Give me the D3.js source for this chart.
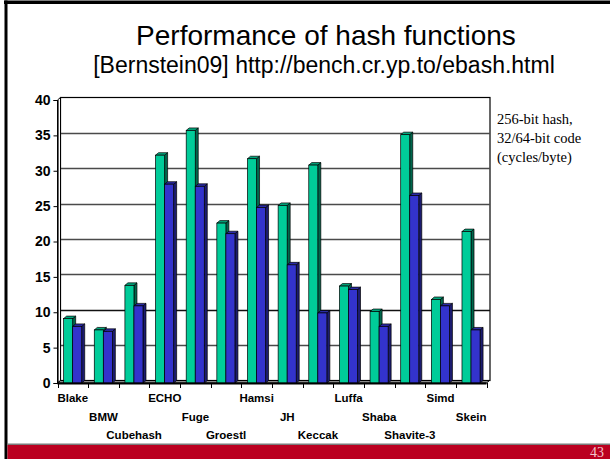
<!DOCTYPE html>
<html>
<head>
<meta charset="utf-8">
<script src="https://cdn.jsdelivr.net/npm/d3@7"></script>
<style>
  html, body { margin: 0; padding: 0; background: #fff; }
  svg { display: block; }
</style>
</head>
<body>
<svg id="chart" width="610" height="459"></svg>
<script>
// Hash function benchmark (cycles/byte), 256-bit hash
const categories = ["Blake", "BMW", "Cubehash", "ECHO", "Fuge", "Groestl", "Hamsi",
                    "JH", "Keccak", "Luffa", "Shaba", "Shavite-3", "Simd", "Skein"];
const code32 = [9.1, 7.5, 13.8, 32.2, 35.7, 22.6, 31.7, 25.1, 30.8, 13.7, 10.1, 35.1, 11.8, 21.4];
const code64 = [8.0, 7.3, 10.9, 28.1, 27.8, 21.1, 24.8, 16.7, 9.9, 13.2, 8.0, 26.5, 10.9, 7.5];
const yTicks = [0, 5, 10, 15, 20, 25, 30, 35, 40];
const seriesNames = ["32-bit", "64-bit"];

const svg = d3.select("#chart");
const sansFont = "'Liberation Sans', Arial, sans-serif";
const serifFont = "'Liberation Serif', 'Times New Roman', serif";

// slide frame
svg.append("rect").attr("x", 4).attr("y", 0.5).attr("width", 606).attr("height", 3.5).attr("fill", "#000");
svg.append("rect").attr("x", 4.5).attr("y", 0.5).attr("width", 3).attr("height", 459).attr("fill", "#000");
svg.append("rect").attr("x", 7.5).attr("y", 443.5).attr("width", 603).attr("height", 1.5).attr("fill", "#7a7a7a");
svg.append("rect").attr("x", 7.5).attr("y", 445).attr("width", 603).attr("height", 14).attr("fill", "#bb0020");
svg.append("text").attr("x", 604).attr("y", 456.5).attr("text-anchor", "end")
  .attr("font-family", serifFont).attr("font-size", 14).attr("fill", "#f2c4cc").text("43");

// titles
svg.append("text").attr("x", 326).attr("y", 45).attr("text-anchor", "middle")
  .attr("font-family", sansFont).attr("font-size", 28).attr("fill", "#000")
  .text("Performance of hash functions");
svg.append("text").attr("x", 324).attr("y", 73).attr("text-anchor", "middle")
  .attr("font-family", sansFont).attr("font-size", 23).attr("fill", "#000")
  .text("[Bernstein09] http://bench.cr.yp.to/ebash.html");

// side note
const note = ["256-bit hash,", "32/64-bit code", "(cycles/byte)"];
svg.append("g").selectAll("text").data(note).join("text")
  .attr("x", 497).attr("y", (d, i) => 124 + i * 19)
  .attr("font-family", serifFont).attr("font-size", 14.5).attr("fill", "#000")
  .text(d => d);

// scales (front plane); back plane is offset by depth
const dx = 3, dy = -2.5;
const x = d3.scaleBand().domain(categories).range([57.5, 486.5]).padding(0);
const bw = x.bandwidth();
const xs = d3.scaleBand().domain(seriesNames).range([0.2 * bw, 0.79 * bw]).padding(0);
const y = d3.scaleLinear().domain([0, 40]).range([383, 100]);

const plot = svg.append("g");

// back wall
const bx0 = x.range()[0] + dx, bx1 = x.range()[1] + dx + 0.5;
plot.append("rect").attr("x", bx0).attr("y", y(40) + dy).attr("width", bx1 - bx0)
  .attr("height", y(0) - y(40)).attr("fill", "#fff").attr("stroke", "#000").attr("stroke-width", 1.2);

// gridlines on back wall
plot.append("g").selectAll("line").data(yTicks.filter(t => t > 0 && t < 40)).join("line")
  .attr("x1", bx0).attr("x2", bx1)
  .attr("y1", d => Math.round(y(d) + dy) + 0.5).attr("y2", d => Math.round(y(d) + dy) + 0.5)
  .attr("stroke", d => d === 10 ? "#111" : "#4a4a4a").attr("stroke-width", 1.5);

// left wall
const lx = x.range()[0];
plot.append("path")
  .attr("d", `M${lx},${y(0)}L${lx},${y(40)}L${lx + dx},${y(40) + dy}L${lx + dx},${y(0) + dy}Z`)
  .attr("fill", "#fff").attr("stroke", "#000").attr("stroke-width", 1);

// floor
const fx0 = x.range()[0], fx1 = x.range()[1];
plot.append("path")
  .attr("d", `M${fx0},${y(0)}L${fx1},${y(0)}L${fx1 + dx},${y(0) + dy}L${fx0 + dx},${y(0) + dy}Z`)
  .attr("fill", "#8a8a8a").attr("stroke", "#000").attr("stroke-width", 1);

// bars
const palette = {
  "32-bit": { front: "#00cc99", top: "#00a67c", side: "#00664c" },
  "64-bit": { front: "#3333cc", top: "#2a2aa6", side: "#1c1c70" }
};
const rows = categories.map((c, i) => ({ c, vals: [code32[i], code64[i]] }));
const bars = [];
rows.forEach(r => seriesNames.forEach((s, j) => bars.push({ c: r.c, s, v: r.vals[j] })));

const barG = plot.append("g").selectAll("g").data(bars).join("g");
barG.each(function (d) {
  const g = d3.select(this);
  const x0 = x(d.c) + xs(d.s), w = xs.bandwidth();
  const yt = y(d.v), yb = y(0);
  const col = palette[d.s];
  g.append("path")
    .attr("d", `M${x0 + w},${yt}L${x0 + w + dx},${yt + dy}L${x0 + w + dx},${yb + dy}L${x0 + w},${yb}Z`)
    .attr("fill", col.side).attr("stroke", "#000").attr("stroke-width", 0.7);
  g.append("path")
    .attr("d", `M${x0},${yt}L${x0 + dx},${yt + dy}L${x0 + w + dx},${yt + dy}L${x0 + w},${yt}Z`)
    .attr("fill", col.top).attr("stroke", "#000").attr("stroke-width", 0.7);
  g.append("rect").attr("x", x0).attr("y", yt).attr("width", w).attr("height", yb - yt)
    .attr("fill", col.front).attr("stroke", "#000").attr("stroke-width", 0.7);
});

// front floor edge
plot.append("line").attr("x1", fx0).attr("x2", fx1).attr("y1", y(0) + 0.5).attr("y2", y(0) + 0.5)
  .attr("stroke", "#000").attr("stroke-width", 1.8);

// y axis
const yAxis = d3.axisLeft(y).tickValues(yTicks).tickSize(4).tickPadding(3);
const yg = plot.append("g").attr("transform", `translate(${lx},0)`).call(yAxis);
yg.select(".domain").attr("stroke", "#000").attr("stroke-width", 1.2);
yg.selectAll(".tick line").attr("stroke", "#000");
yg.selectAll(".tick text").attr("font-family", sansFont).attr("font-size", 14)
  .attr("font-weight", "bold").attr("fill", "#000");

// x axis ticks at category boundaries
const bounds = categories.map(c => x(c)).concat([x.range()[1]]);
plot.append("g").selectAll("line").data(bounds).join("line")
  .attr("x1", d => Math.round(d) + 0.5).attr("x2", d => Math.round(d) + 0.5)
  .attr("y1", y(0)).attr("y2", y(0) + 5).attr("stroke", "#000").attr("stroke-width", 1);

// staggered category labels
plot.append("g").selectAll("text").data(categories).join("text")
  .attr("x", d => x(d) + bw / 2)
  .attr("y", (d, i) => 402 + (i % 3) * 18.5)
  .attr("text-anchor", "middle")
  .attr("font-family", sansFont).attr("font-size", 11.5).attr("font-weight", "bold").attr("fill", "#000")
  .text(d => d);
</script>
</body>
</html>
